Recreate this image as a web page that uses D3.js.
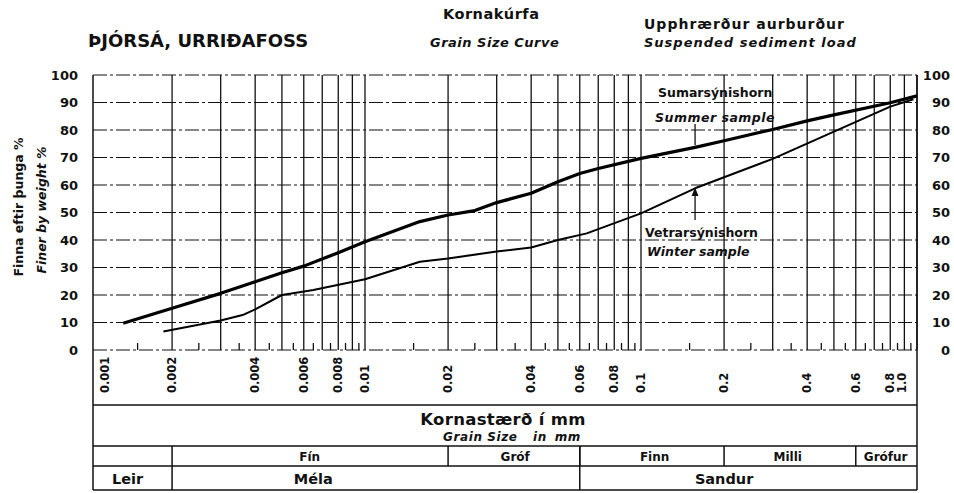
<!DOCTYPE html>
<html>
<head>
<meta charset="utf-8">
<script src="https://cdn.jsdelivr.net/npm/d3@7"></script>
<style>
  body { margin: 0; background: #fff; }
  svg { display: block; }
  text { font-family: "DejaVu Sans", sans-serif; font-weight: bold; fill: #111; }
  .it { font-style: oblique; }
</style>
</head>
<body>
<div id="chart"></div>
<script>
// grain size (mm) and percent finer by weight
const summerSize = [0.00133, 0.002, 0.003, 0.004, 0.005, 0.006, 0.008, 0.01, 0.0158, 0.02, 0.025, 0.03, 0.04, 0.05, 0.06, 0.07, 0.1, 0.157, 0.2, 0.3, 0.4, 0.5, 0.8, 1.0];
const summerPct  = [9.7, 15.2, 20.6, 24.8, 28.1, 30.5, 35.4, 39.4, 46.7, 49.1, 50.7, 53.6, 57.0, 61.2, 64.2, 66.0, 69.7, 73.7, 76.1, 80.2, 83.3, 85.5, 89.9, 92.4];
const winterSize = [0.00186, 0.003, 0.0036, 0.004, 0.005, 0.0065, 0.01, 0.0158, 0.02, 0.03, 0.04, 0.05, 0.0636, 0.1, 0.157, 0.2, 0.3, 0.5, 0.8, 0.97];
const winterPct  = [6.7, 10.7, 12.7, 14.8, 20.0, 21.8, 25.7, 32.1, 33.3, 35.8, 37.3, 40.0, 42.4, 49.7, 58.8, 62.8, 69.5, 79.4, 88.5, 91.2];

const yTicks = [0, 10, 20, 30, 40, 50, 60, 70, 80, 90, 100];
const xTickLabels = ['0.001', '0.002', '0.004', '0.006', '0.008', '0.01', '0.02', '0.04', '0.06', '0.08', '0.1', '0.2', '0.4', '0.6', '0.8', '1.0'];

// grain classes: [from mm, to mm, label, label centred at mm]
const subClasses = [[0.002, 0.02, 'Fín', 0.0063], [0.02, 0.06, 'Gróf', 0.035], [0.06, 0.2, 'Finn', 0.112], [0.2, 0.6, 'Milli', 0.34], [0.6, 1.0, 'Grófur', 0.77]];
const mainClasses = [[0.001, 0.002, 'Leir', 0.00138], [0.002, 0.06, 'Méla', 0.0065], [0.06, 1.0, 'Sandur', 0.2]];

const W = 954, H = 493;
const frameL = 93, frameR = 917, plotTop = 75, plotBottom = 350;
const rowTop = 405, row2 = 446, row3 = 466, rowEnd = 490;

const svg = d3.select('#chart').append('svg')
  .attr('width', W).attr('height', H);

const x = d3.scaleLog().domain([0.001, 1]).range([89, frameR]);
const y = d3.scaleLinear().domain([0, 100]).range([plotBottom, plotTop]);

// vertical log grid (1..9 in each decade)
const gridX = [];
[0.001, 0.01, 0.1].forEach(d => { for (let k = 1; k <= 9; k++) gridX.push(+(d * k).toPrecision(3)); });
gridX.push(1);
svg.append('g').selectAll('line')
  .data(gridX.filter(v => x(v) > frameL + 2))
  .enter().append('line')
  .attr('x1', d => x(d)).attr('x2', d => x(d))
  .attr('y1', plotTop).attr('y2', plotBottom)
  .attr('stroke', '#111').attr('stroke-width', 1.3);

// half-step ticks on the bottom line
const minorX = [];
[0.001, 0.01, 0.1].forEach(d => { for (let k = 1; k <= 9; k++) minorX.push(d * (k + 0.5)); });
svg.append('g').selectAll('line')
  .data(minorX)
  .enter().append('line')
  .attr('x1', d => x(d)).attr('x2', d => x(d))
  .attr('y1', plotBottom).attr('y2', plotBottom - 7)
  .attr('stroke', '#111').attr('stroke-width', 1.3);

// horizontal grid, dash-dot like the drafted lines
svg.append('g').selectAll('line')
  .data(yTicks)
  .enter().append('line')
  .attr('x1', frameL).attr('x2', frameR)
  .attr('y1', d => y(d)).attr('y2', d => y(d))
  .attr('stroke', '#111').attr('stroke-width', 1.2)
  .attr('stroke-dasharray', '14,3,3,3');

// frame + table lines
const frame = svg.append('g').attr('stroke', '#111').attr('stroke-width', 1.5);
frame.append('line').attr('x1', frameL).attr('x2', frameL).attr('y1', plotTop).attr('y2', rowEnd);
frame.append('line').attr('x1', frameR).attr('x2', frameR).attr('y1', plotTop).attr('y2', rowEnd);
[rowTop, row2, row3, rowEnd].forEach(v => {
  frame.append('line').attr('x1', frameL).attr('x2', frameR).attr('y1', v).attr('y2', v);
});
subClasses.slice(1).forEach(c => {
  frame.append('line').attr('x1', x(c[0])).attr('x2', x(c[0])).attr('y1', row2).attr('y2', row3);
});
subClasses.slice(0, 1).concat(mainClasses.slice(2)).forEach(c => {
  frame.append('line').attr('x1', x(c[0])).attr('x2', x(c[0])).attr('y1', row2).attr('y2', rowEnd);
});

// y axes
const yLeft = svg.append('g').attr('transform', `translate(${frameL},0)`)
  .call(d3.axisLeft(y).tickValues(yTicks).tickSize(0).tickPadding(15));
const yRight = svg.append('g').attr('transform', `translate(${frameR},0)`)
  .call(d3.axisRight(y).tickValues(yTicks).tickSize(0));
[yLeft, yRight].forEach(g => {
  g.select('.domain').remove();
  g.selectAll('text').style('font-size', '13px').style('font-family', '"DejaVu Sans", sans-serif')
    .style('font-weight', 'bold').attr('fill', '#111');
});
yRight.selectAll('text').attr('text-anchor', 'end').attr('x', 950 - frameR);

// x tick labels, rotated
svg.append('g').selectAll('text')
  .data(xTickLabels)
  .enter().append('text')
  .attr('transform', d => {
    const px = Math.min(Math.max(x(+d), frameL + 12), frameR - 15);
    return `translate(${px + 4},393) rotate(-90)`;
  })
  .style('font-size', '11.5px')
  .text(d => d);

// curves
const line = d3.line().x(d => x(d[0])).y(d => y(d[1]));
svg.append('path')
  .datum(summerSize.map((s, i) => [s, summerPct[i]]))
  .attr('d', line).attr('fill', 'none')
  .attr('stroke', '#000').attr('stroke-width', 3.2).attr('stroke-linejoin', 'round');
svg.append('path')
  .datum(winterSize.map((s, i) => [s, winterPct[i]]))
  .attr('d', line).attr('fill', 'none')
  .attr('stroke', '#000').attr('stroke-width', 2).attr('stroke-linejoin', 'round');

// pointers from labels to curves
const pointAt = 0.157;
const sumY = y(summerPct[summerSize.indexOf(pointAt)]);
const winY = y(winterPct[winterSize.indexOf(pointAt)]);
const pointer = svg.append('g').attr('stroke', '#111').attr('stroke-width', 1.3).attr('fill', '#111');
pointer.append('line').attr('x1', x(pointAt)).attr('x2', x(pointAt))
  .attr('y1', 124).attr('y2', sumY - 2);
pointer.append('line').attr('x1', x(pointAt)).attr('x2', x(pointAt))
  .attr('y1', 220).attr('y2', winY + 2);
pointer.append('path')
  .attr('d', `M${x(pointAt) - 2.5},${winY + 7}L${x(pointAt)},${winY + 1}L${x(pointAt) + 2.5},${winY + 7}Z`);

// curve labels
svg.append('text').attr('x', 658).attr('y', 97).style('font-size', '12.5px').text('Sumarsýnishorn');
svg.append('text').attr('x', 655).attr('y', 122).attr('class', 'it').style('font-size', '12.5px')
  .style('letter-spacing', '0.5px').text('Summer sample');
svg.append('text').attr('x', 645).attr('y', 237).style('font-size', '12.5px').text('Vetrarsýnishorn');
svg.append('text').attr('x', 647).attr('y', 256).attr('class', 'it').style('font-size', '12.5px').text('Winter sample');

// titles
svg.append('text').attr('x', 88).attr('y', 47).style('font-size', '18px').text('ÞJÓRSÁ, URRIÐAFOSS');
svg.append('text').attr('x', 443).attr('y', 19).style('font-size', '14.5px').style('letter-spacing', '0.5px').text('Kornakúrfa');
svg.append('text').attr('x', 430).attr('y', 47).attr('class', 'it').style('font-size', '13px')
  .style('letter-spacing', '0.5px').text('Grain Size Curve');
svg.append('text').attr('x', 644).attr('y', 29).style('font-size', '14px').style('letter-spacing', '1px')
  .text('Upphrærður aurburður');
svg.append('text').attr('x', 644).attr('y', 47).attr('class', 'it').style('font-size', '13px')
  .style('letter-spacing', '1px').text('Suspended sediment load');

// y title
svg.append('text').attr('transform', 'translate(23,207) rotate(-90)').attr('text-anchor', 'middle')
  .style('font-size', '12.5px').text('Finna eftir þunga %');
svg.append('text').attr('transform', 'translate(46,210) rotate(-90)').attr('text-anchor', 'middle')
  .attr('class', 'it').style('font-size', '12.5px').text('Finer by weight %');

// table text
svg.append('text').attr('x', 503).attr('y', 425).attr('text-anchor', 'middle').style('font-size', '16.5px')
  .style('letter-spacing', '0.3px').text('Kornastærð í mm');
svg.append('text').attr('x', 443).attr('y', 441).attr('class', 'it')
  .style('font-size', '12px').style('letter-spacing', '0.6px').text('Grain Size');
svg.append('text').attr('x', 533).attr('y', 441).attr('class', 'it')
  .style('font-size', '12px').style('letter-spacing', '0.6px').style('word-spacing', '3px').text('in mm');
svg.append('g').selectAll('text')
  .data(subClasses)
  .enter().append('text')
  .attr('x', d => x(d[3]))
  .attr('y', row3 - 5)
  .attr('text-anchor', 'middle')
  .style('font-size', '12px')
  .text(d => d[2]);
svg.append('g').selectAll('text')
  .data(mainClasses)
  .enter().append('text')
  .attr('x', d => x(d[3]))
  .attr('y', rowEnd - 6)
  .attr('text-anchor', 'middle')
  .style('font-size', '14.5px')
  .text(d => d[2]);
</script>
</body>
</html>
